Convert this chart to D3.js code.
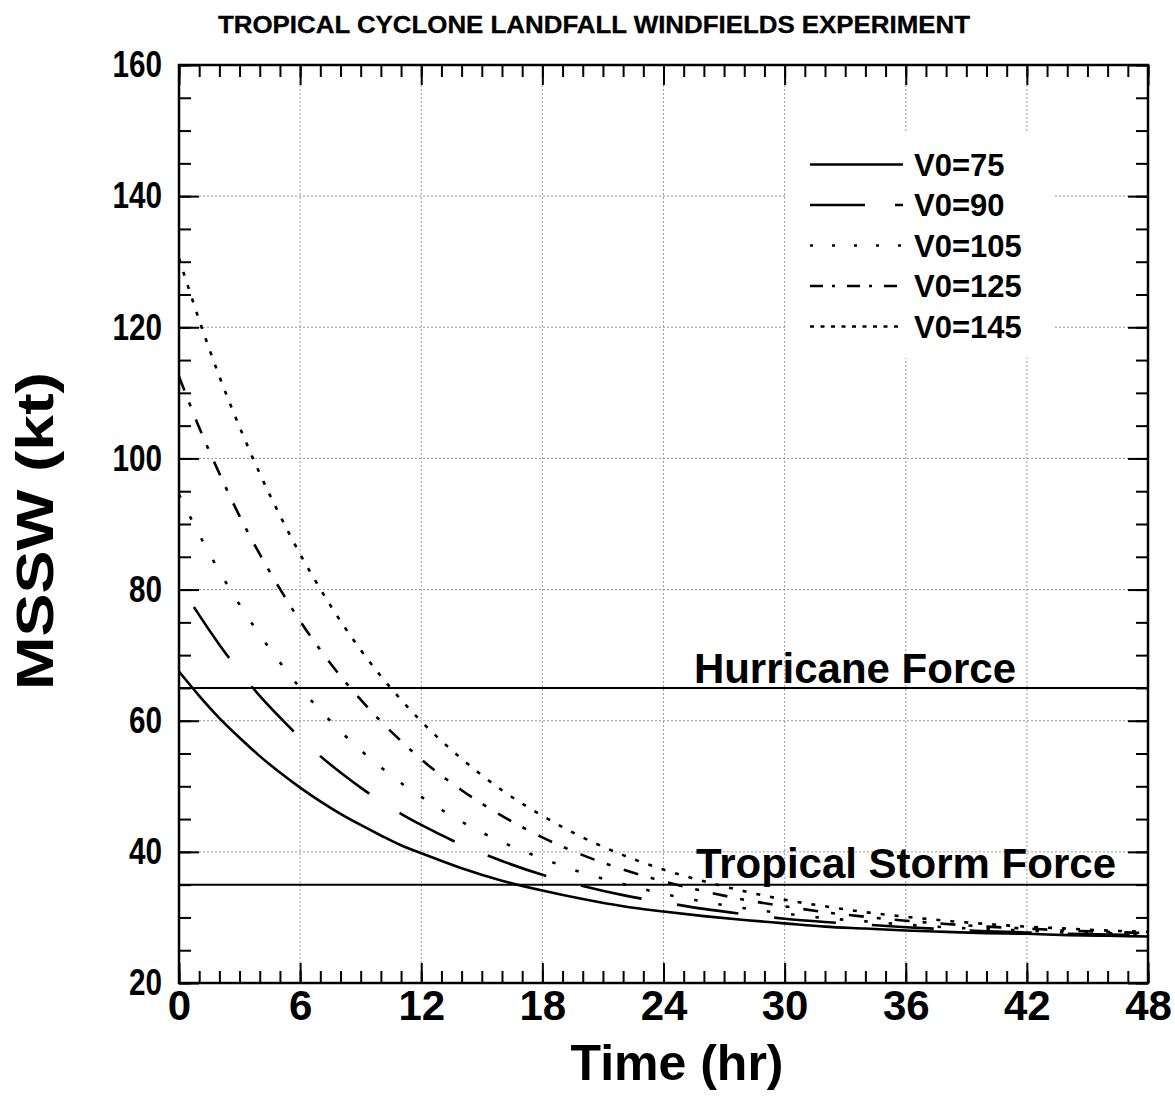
<!DOCTYPE html>
<html>
<head>
<meta charset="utf-8">
<script src="https://cdn.jsdelivr.net/npm/d3@7"></script>
<style>
  html, body { margin: 0; padding: 0; background: #fff; }
  svg { display: block; }
  text { font-family: "Liberation Sans", Arial, Helvetica, sans-serif; font-weight: bold; fill: #000; }
</style>
</head>
<body>
<svg id="chart" width="1175" height="1110"></svg>
<script>
// ---- data ----
const times = [0,1,2,3,4,5,6,7,8,9,10,11,12,14,16,18,20,22,24,26,28,30,32,34,36,38,40,42,44,46,48];
const v75  = [67.5,63.8,60.4,57.4,54.6,52.1,49.8,47.7,45.8,44.1,42.5,41.0,39.8,37.5,35.6,34.1,32.8,31.7,30.9,30.2,29.6,29.1,28.6,28.3,28.0,27.8,27.6,27.5,27.3,27.2,27.1];
const v90  = [81.0,76.1,71.6,67.5,63.8,60.5,57.4,54.6,52.1,49.8,47.7,45.8,44.1,41.1,38.6,36.5,34.8,33.4,32.3,31.3,30.5,29.8,29.3,28.9,28.5,28.2,27.9,27.7,27.5,27.4,27.3];
const v105 = [94.5,88.4,82.8,77.7,73.1,68.9,65.0,61.6,58.4,55.5,52.9,50.5,48.4,44.6,41.5,39.0,36.8,35.1,33.6,32.4,31.4,30.6,29.9,29.4,28.9,28.5,28.2,28.0,27.7,27.6,27.4];
const v125 = [112.5,104.7,97.7,91.2,85.4,80.1,75.2,70.8,66.8,63.2,59.9,56.9,54.1,49.4,45.5,42.2,39.5,37.3,35.5,34.0,32.7,31.7,30.8,30.1,29.5,29.0,28.6,28.3,28.0,27.8,27.6];
const v145 = [130.5,121.1,112.5,104.8,97.7,91.3,85.4,80.1,75.2,70.8,66.8,63.2,59.9,54.2,49.4,45.5,42.2,39.5,37.3,35.5,34.0,32.7,31.7,30.8,30.1,29.5,29.0,28.6,28.3,28.0,27.8];
const seriesNames = ["V0=75","V0=90","V0=105","V0=125","V0=145"];
const seriesValues = [v75, v90, v105, v125, v145];
const xTicks = [0,6,12,18,24,30,36,42,48];
const yTicks = [20,40,60,80,100,120,140,160];
const thresholds = [65, 35];
const thresholdLabels = ["Hurricane Force", "Tropical Storm Force"];
const title = "TROPICAL CYCLONE LANDFALL WINDFIELDS EXPERIMENT";
const xLabel = "Time (hr)";
const yLabel = "MSSW (kt)";

// ---- styles ----
const curveDashes  = [null, "62,36", "3.5,21", "15,13,4,14", "4,10"];
const curveOffsets = [0, 70, 0, 0, 0];
const legendDashes = [null, "55,30", "3,19", "13,9,3,12", "4,6.5"];

const svg = d3.select("#chart");
const L = 179, R = 1148, T = 65, B = 983;
const x = d3.scaleLinear().domain([0,48]).range([L,R]);
const y = d3.scaleLinear().domain([20,160]).range([B,T]);

// title
svg.append("text").attr("x", 594).attr("y", 33).attr("text-anchor","middle")
  .attr("font-size", 23).attr("textLength", 752).attr("lengthAdjust","spacingAndGlyphs")
  .attr("stroke","#000").attr("stroke-width",0.3).text(title);

// grid
const grid = svg.append("g").attr("stroke","#9a9aa8").attr("stroke-width",1).attr("stroke-dasharray","2,2");
xTicks.filter(d => d>0 && d<48).forEach(d => {
  grid.append("line").attr("x1", x(d)).attr("x2", x(d)).attr("y1", T).attr("y2", B);
});
yTicks.filter(d => d>20 && d<160).forEach(d => {
  grid.append("line").attr("x1", L).attr("x2", R).attr("y1", y(d)).attr("y2", y(d));
});

// clip
svg.append("clipPath").attr("id","clip").append("rect").attr("x",L).attr("y",T).attr("width",R-L).attr("height",B-T);

// legend background (hides grid)
svg.append("rect").attr("x", 787).attr("y", 132).attr("width", 266).attr("height", 226).attr("fill","#fff");

// threshold lines
thresholds.forEach(v => {
  svg.append("line").attr("x1", L).attr("x2", R).attr("y1", y(v)).attr("y2", y(v))
    .attr("stroke","#000").attr("stroke-width",2);
});
svg.append("text").attr("x", 1016).attr("y", y(65) - 5).attr("text-anchor","end")
  .attr("font-size", 42).text(thresholdLabels[0]);
svg.append("text").attr("x", 1116).attr("y", y(35) - 7).attr("text-anchor","end")
  .attr("font-size", 42).text(thresholdLabels[1]);

// curves
const line = d3.line().x((d,i) => x(times[i])).y(d => y(d)).curve(d3.curveMonotoneX);
const curves = svg.append("g").attr("clip-path","url(#clip)");
seriesValues.forEach((vals, k) => {
  const p = curves.append("path").attr("d", line(vals)).attr("fill","none")
    .attr("stroke","#000").attr("stroke-width", 2.6);
  if (curveDashes[k]) p.attr("stroke-dasharray", curveDashes[k]).attr("stroke-dashoffset", curveOffsets[k]);
});

// axes with inward ticks
const minorX = d3.range(0,49,1), minorY = d3.range(20,161,5);
function drawAxis(axisGen, transform, scale, minor, major, labels, pad) {
  const gMin = svg.append("g").attr("transform", transform)
    .call(axisGen(scale).tickValues(minor).tickSize(-12).tickSizeOuter(0).tickFormat(""));
  gMin.select(".domain").remove();
  gMin.selectAll("line").attr("stroke","#000").attr("stroke-width",2);
  const gMaj = svg.append("g").attr("transform", transform)
    .call(axisGen(scale).tickValues(major).tickSize(-20).tickSizeOuter(0).tickPadding(pad)
      .tickFormat(labels ? d3.format("d") : ""));
  gMaj.select(".domain").remove();
  gMaj.selectAll("line").attr("stroke","#000").attr("stroke-width",2);
  return gMaj;
}
const gx = drawAxis(d3.axisBottom, `translate(0,${B})`, x, minorX, xTicks, true, 7);
gx.selectAll("text").attr("font-size", 42).attr("font-family", '"Liberation Sans", Arial, sans-serif').attr("font-weight","bold");
drawAxis(d3.axisTop, `translate(0,${T})`, x, minorX, xTicks, false, 0);
const gy = drawAxis(d3.axisLeft, `translate(${L},0)`, y, minorY, yTicks, true, 17);
gy.selectAll("text").attr("font-size", 37).attr("font-family", '"Liberation Sans", Arial, sans-serif').attr("font-weight","bold")
  .attr("textLength", d => String(d).length * 16.5).attr("lengthAdjust","spacingAndGlyphs");
drawAxis(d3.axisRight, `translate(${R},0)`, y, minorY, yTicks, false, 0);

// frame
svg.append("rect").attr("x", L).attr("y", T).attr("width", R-L).attr("height", B-T)
  .attr("fill","none").attr("stroke","#000").attr("stroke-width",2.5);

// legend
const lg = svg.append("g");
seriesNames.forEach((name, k) => {
  const cy = 164.5 + k * 40.5;
  const ln = lg.append("line").attr("x1", 810).attr("x2", 903).attr("y1", cy).attr("y2", cy)
    .attr("stroke","#000").attr("stroke-width", 2.4);
  if (legendDashes[k]) ln.attr("stroke-dasharray", legendDashes[k]);
  lg.append("text").attr("x", 914).attr("y", cy + 11).attr("font-size", 31).text(name);
});

// axis titles
svg.append("text").attr("x", 677).attr("y", 1080).attr("text-anchor","middle")
  .attr("font-size", 50).text(xLabel);
svg.append("text").attr("transform","translate(53,531) rotate(-90)").attr("text-anchor","middle")
  .attr("font-size", 52).attr("textLength", 318).attr("lengthAdjust","spacingAndGlyphs").text(yLabel);
</script>
</body>
</html>
